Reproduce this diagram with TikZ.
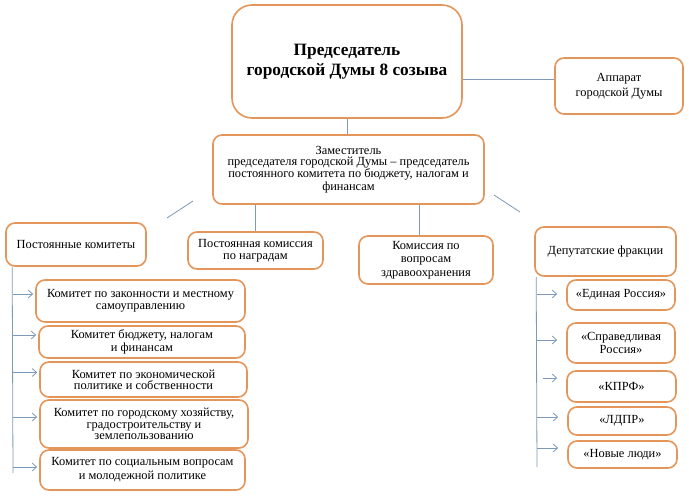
\documentclass[tikz,border=0pt]{standalone}
\usepackage{fontspec}
\setmainfont{Liberation Serif}
\usetikzlibrary{arrows.meta}
\definecolor{bord}{RGB}{228,150,90}
\definecolor{connc}{RGB}{125,155,185}
\begin{document}
\begin{tikzpicture}[x=1pt,y=-1pt,
  box/.style={draw=bord, line width=1.6pt, rounded corners=9pt, fill=white, align=center, inner sep=0pt},
  ft/.style={font=\fontsize{12.4}{#1}\selectfont},
  ft/.default=12,
  conn/.style={draw=connc, line width=0.8pt},
  arr/.style={conn, -{Straight Barb[length=4.5pt,width=8pt]}}]
\useasboundingbox[fill=white] (0,0) rectangle (689,498);

% main nodes
\node[box, rounded corners=20pt, minimum width=230pt, minimum height=113pt,
      font=\fontsize{17.3}{20}\selectfont\bfseries] (top) at (347,61.5)
  {Председатель\\городской Думы 8 созыва};
\node[box, ft=15, minimum width=128pt, minimum height=56pt] (app) at (619,86)
  {Аппарат\\городской Думы};
\node[box, ft=11, minimum width=271pt, minimum height=69pt] (dep) at (348.5,169.5)
  {Заместитель\\председателя городской Думы – председатель\\постоянного комитета по бюджету, налогам и\\финансам};

\node[box, ft, minimum width=140pt, minimum height=43pt] (pk) at (76,244.5)
  {Постоянные комитеты};
\node[box, ft=12, minimum width=135pt, minimum height=37pt] (pn) at (255.5,250.5)
  {Постоянная комиссия\\по наградам};
\node[box, ft=13.5, minimum width=134pt, minimum height=48pt] (kz) at (426,260)
  {Комиссия по\\вопросам\\здравоохранения};
\node[box, ft, minimum width=141pt, minimum height=49pt] (df) at (605.5,251.5)
  {Депутатские фракции};

% committees
\node[box, ft=12, minimum width=209pt, minimum height=42pt] (c1) at (140.5,301)
  {Комитет по законности и местному\\самоуправлению};
\node[box, ft=10.5, minimum width=206pt, minimum height=32pt] (c2) at (142,342)
  {Комитет бюджету, налогам\\и финансам};
\node[box, ft=11, minimum width=207pt, minimum height=35pt] (c3) at (143.5,379.5)
  {Комитет по экономической\\политике и собственности};
\node[box, ft=11.5, minimum width=208pt, minimum height=48pt] (c4) at (144,424)
  {Комитет по городскому хозяйству,\\градостроительству и\\землепользованию};
\node[box, ft=14, minimum width=205pt, minimum height=40pt] (c5) at (142.5,470)
  {Комитет по социальным вопросам\\и молодежной политике};

% factions
\node[box, ft, minimum width=108pt, minimum height=30pt] (f1) at (621,295)
  {«Единая Россия»};
\node[box, ft=13, minimum width=108pt, minimum height=40pt] (f2) at (621,343)
  {«Справедливая\\Россия»};
\node[box, ft, minimum width=109pt, minimum height=31pt] (f3) at (621.5,386.5)
  {«КПРФ»};
\node[box, ft, minimum width=108pt, minimum height=28pt] (f4) at (622,421)
  {«ЛДПР»};
\node[box, ft, minimum width=109pt, minimum height=27pt] (f5) at (622.5,454.5)
  {«Новые люди»};

% connectors
\draw[conn] (top.south) -- (top.south |- dep.north);
\draw[conn] ([yshift=-17.5pt]top.east) -- ([yshift=-17.5pt]top.east -| app.west);
\draw[conn] (pn.north) -- (pn.north |- dep.south);
\draw[conn] ([xshift=-7pt]kz.north) -- ([xshift=-7pt]kz.north |- dep.south);

\coordinate (dl1) at (193,201);
\coordinate (dl2) at (167,218);
\coordinate (dr1) at (494,195);
\coordinate (dr2) at (520,212);
\draw[conn] (dl1) -- (dl2);
\draw[conn] (dr1) -- (dr2);

% left tree
\coordinate (lv) at (13,473);
\draw[conn] ([xshift=7pt]pk.south west) -- (lv);
\foreach \c in {c1,c2,c3,c4} {
  \draw[arr] ([yshift=7pt]\c.west -| lv) -- ([yshift=7pt,xshift=-2pt]\c.west);
}
\draw[arr] ([yshift=3pt]c5.west -| lv) -- ([yshift=3pt,xshift=-2pt]c5.west);

% right tree
\coordinate (rv) at (537,467);
\draw[conn] ([xshift=2pt]df.south west) -- (rv);
\draw[arr, shorten >=9pt] ([yshift=1pt]f1.west -| rv) -- ([yshift=1pt]f1.west);
\draw[arr, shorten >=9pt] ([yshift=3pt]f2.west -| rv) -- ([yshift=3pt]f2.west);
\draw[arr, shorten >=9pt, shorten <=6pt] ([yshift=8.5pt]f3.west -| rv) -- ([yshift=8.5pt]f3.west);
\draw[arr, shorten >=9pt] ([yshift=4pt]f4.west -| rv) -- ([yshift=4pt]f4.west);
\draw[arr, shorten >=9pt] ([yshift=6.5pt]f5.west -| rv) -- ([yshift=6.5pt]f5.west);
\end{tikzpicture}
\end{document}
